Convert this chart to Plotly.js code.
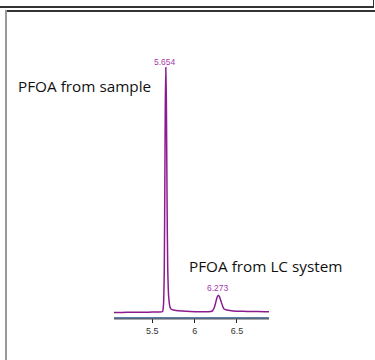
<!DOCTYPE html>
<html>
<head>
<meta charset="utf-8">
<script src="https://cdn.plot.ly/plotly-3.0.1.min.js"></script>
<style>
  html, body { margin: 0; padding: 0; background: #fff; }
  #wrap { position: relative; width: 375px; height: 360px; overflow: hidden; }
  #chart { position: absolute; left: 0; top: 0; width: 375px; height: 360px; }
  .ln { position: absolute; }
</style>
</head>
<body>
<div id="wrap">
  <div id="chart"></div>
  <div class="ln" style="left:0;top:6px;width:374px;height:1.5px;background:#333;"></div>
  <div class="ln" style="left:372.5px;top:0;width:1.5px;height:7.5px;background:#333;"></div>
  <div class="ln" style="left:6px;top:10px;width:369px;height:1.5px;background:#333;"></div>
  <div class="ln" style="left:4.5px;top:10px;width:2px;height:350px;background:#999;"></div>
</div>
<script>
// Retention time (min)
const time = [5.048, 5.1, 5.2, 5.3, 5.4, 5.5, 5.58, 5.6206, 5.6324, 5.6419, 5.6478, 5.6537, 5.6596, 5.6667, 5.6737, 5.682, 5.6938, 5.7092, 5.7269, 5.75, 5.78, 5.85, 5.95, 6.05, 6.15, 6.205, 6.2289, 6.2466, 6.2643, 6.2794, 6.2936, 6.3113, 6.329, 6.3467, 6.3821, 6.453, 6.55, 6.65, 6.75, 6.878];
// Signal intensity (relative)
const intensity = [1.8, 1.8, 1.9, 1.9, 1.9, 2.0, 2.0, 2.2, 5, 20, 50, 85, 100, 85, 50, 20, 8, 4, 3, 2.8, 2.6, 2.4, 2.2, 2.1, 2.1, 2.3, 3.5, 5.5, 7.8, 8.7, 8.2, 6.3, 4.5, 3.2, 2.8, 2.4, 2.3, 2.2, 2.2, 2.1];
// Peak apex labels
const peakTimes = [5.654, 6.273];
const peakHeights = [100, 8.7];
const peakLabels = ["5.654", "6.273"];
// Tick labels
const tickVals = [5.5, 6, 6.5];
const tickText = ["5.5", "6", "6.5"];
// Callout texts
const callouts = ["PFOA from sample", "PFOA from LC system"];

const trace = {
  x: time, y: intensity, type: 'scatter', mode: 'lines',
  line: { color: '#8b1c8f', width: 1.5, shape: 'spline', smoothing: 0.6 },
  hoverinfo: 'none'
};

const annotations = peakTimes.map((t, i) => ({
  x: t, y: peakHeights[i], xref: 'x', yref: 'y',
  text: peakLabels[i], showarrow: false, xanchor: 'center', yanchor: 'bottom',
  yshift: i === 0 ? -2 : 0,
  font: { family: 'Liberation Sans, Arial, sans-serif', size: 8.5, color: '#a33aa9' }
}));
annotations.push({
  x: -0.635, y: 0.880, xref: 'paper', yref: 'paper', text: callouts[0],
  showarrow: false, xanchor: 'left', yanchor: 'middle',
  font: { family: 'Open Sans, sans-serif', size: 15.3, color: '#111' }
});
annotations.push({
  x: 0.471, y: 0.196, xref: 'paper', yref: 'paper', text: callouts[1],
  showarrow: false, xanchor: 'left', yanchor: 'middle',
  font: { family: 'Open Sans, sans-serif', size: 15.3, color: '#111' }
});

const layout = {
  width: 375, height: 360,
  margin: { l: 114, r: 106, t: 54.5, b: 42.5 },
  paper_bgcolor: 'rgba(0,0,0,0)', plot_bgcolor: 'rgba(0,0,0,0)',
  showlegend: false,
  xaxis: {
    range: [5.048, 6.878], tickvals: tickVals, ticktext: tickText,
    showgrid: false, zeroline: false, showline: true, linecolor: '#5a7dab', linewidth: 2,
    ticks: 'outside', ticklen: 4, tickwidth: 1, tickcolor: '#222',
    tickfont: { family: 'Liberation Sans, Arial, sans-serif', size: 9, color: '#333' }
  },
  yaxis: { range: [0, 105], visible: false, showgrid: false, zeroline: false },
  annotations: annotations,
  shapes: [{
    type: 'line', xref: 'paper', x0: 0, x1: 1, yref: 'paper', ysizemode: 'pixel',
    yanchor: 0, y0: -2, y1: -2, line: { color: '#555', width: 1 }
  }]
};

Plotly.newPlot('chart', [trace], layout, { staticPlot: true, displayModeBar: false });
</script>
</body>
</html>
